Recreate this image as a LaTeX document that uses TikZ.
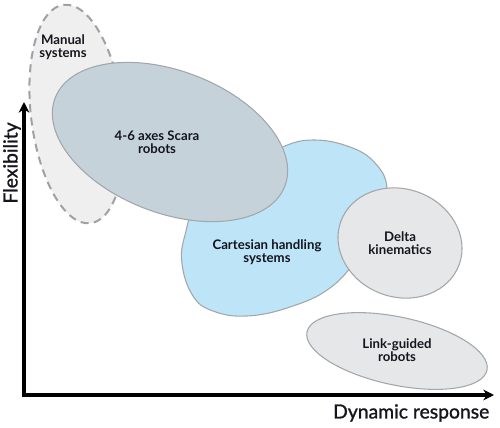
\documentclass[tikz,border=0pt]{standalone}
\usepackage{fontspec}
\setmainfont{Lato}
\newfontfamily\axfont{Lato}[FakeBold=1.2]
\usetikzlibrary{arrows.meta}
\definecolor{manualfill}{HTML}{EFEFF0}
\definecolor{dashgray}{HTML}{9FA2A5}
\definecolor{scarafill}{HTML}{C5D2D9}
\definecolor{cartfill}{HTML}{BDE4F7}
\definecolor{greyfill}{HTML}{E6E7E8}
\definecolor{edgegray}{HTML}{A3A7AA}
\definecolor{inkc}{HTML}{15151E}
\begin{document}
\begin{tikzpicture}[x=0.75pt,y=0.75pt,
  blob/.style={draw=edgegray, line width=0.8pt},
  lbl/.style={font=\fontsize{9.9}{9.7}\selectfont\bfseries, text=inkc, align=center},
  axis/.style={line width=2.5pt, -{Stealth[length=8pt,width=8pt,inset=2.5pt]}},
  axlbl/.style={font=\fontsize{14.5}{16}\selectfont\axfont, text=inkc}]
\useasboundingbox (0,0) rectangle (500,-428);
% Manual systems
\draw[dashgray, fill=manualfill, line width=1.5pt, dash pattern=on 6pt off 4pt]
  (77,-114) ellipse [x radius=46, y radius=110, rotate=7];
% Cartesian blob
\draw[blob, fill=cartfill] plot[smooth cycle, tension=0.7] coordinates {
  (313,-140) (350,-147) (375,-163) (387,-188) (380,-222) (360,-255) (330,-288)
  (290,-307) (247,-316) (213,-311) (193,-296) (182,-264) (185,-235) (198,-205)
  (240,-170) (280,-148)};
% Scara
\draw[blob, fill=scarafill] (170,-142) ellipse [x radius=123, y radius=71, rotate=-21];
% Delta
\draw[blob, fill=greyfill] (400,-243) ellipse [x radius=63, y radius=54, rotate=-20];
% Link-guided
\draw[blob, fill=greyfill] (397,-351) ellipse [x radius=92, y radius=34, rotate=-12];
% labels
\node[lbl] (manual) at (63,-47) {Manual\\systems};
\node[lbl] (scara) at (157,-142) {4-6 axes Scara\\robots};
\node[lbl] (cart) at (267,-252) {Cartesian handling\\systems};
\node[lbl] (delta) at (400,-243) {Delta\\kinematics};
\node[lbl] (link) at (397,-350) {Link-guided\\robots};
% axes
\coordinate (origin) at (24,-395);
\coordinate (ytip) at (24,-102);
\coordinate (xtip) at (494,-395);
\draw[axis] ([xshift=-1.25pt]origin) -- (xtip);
\draw[axis] ([yshift=-1.25pt]origin) -- (ytip);
\node[axlbl, rotate=90] (flex) at (12,-163) {Flexibility};
\node[axlbl, anchor=east] (dyn) at (494,-413) {Dynamic response};
\end{tikzpicture}
\end{document}
